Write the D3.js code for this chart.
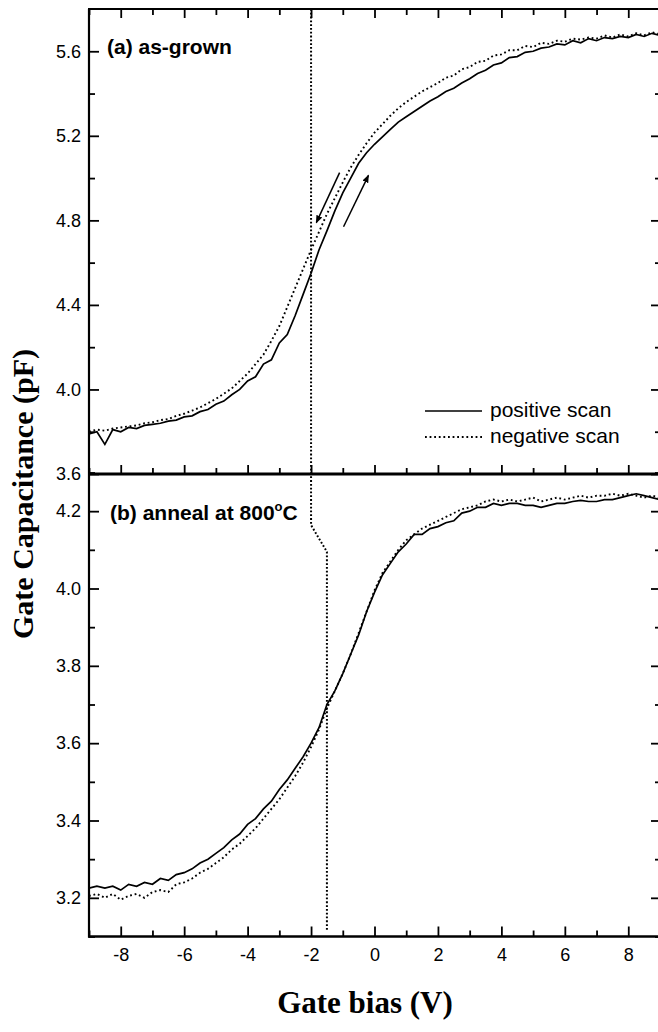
<!DOCTYPE html>
<html>
<head>
<meta charset="utf-8">
<script src="https://cdn.jsdelivr.net/npm/d3@7"></script>
<style>
  body { margin: 0; background: #fff; }
  svg { display: block; }
</style>
</head>
<body>
<svg id="chart"></svg>
<script>
let w = 658;
let h = 1032;

// gate bias sample points (V)
const bias = [
  -9, -8.75, -8.5, -8.25, -8, -7.75, -7.5, -7.25, -7, -6.75, -6.5, -6.25,
  -6, -5.75, -5.5, -5.25, -5, -4.75, -4.5, -4.25, -4, -3.75, -3.5, -3.25,
  -3, -2.75, -2.5, -2.25, -2, -1.75, -1.5, -1.25, -1, -0.75, -0.5, -0.25,
  0, 0.25, 0.5, 0.75, 1, 1.25, 1.5, 1.75, 2, 2.25, 2.5, 2.75,
  3, 3.25, 3.5, 3.75, 4, 4.25, 4.5, 4.75, 5, 5.25, 5.5, 5.75,
  6, 6.25, 6.5, 6.75, 7, 7.25, 7.5, 7.75, 8, 8.25, 8.5, 8.75, 9
];

// (a) as-grown, capacitance in pF
const grownPositive = [
  3.79, 3.80, 3.74, 3.81,
  3.80, 3.82, 3.815, 3.83,
  3.835, 3.84, 3.85, 3.855,
  3.87, 3.875, 3.895, 3.905,
  3.93, 3.945, 3.975, 4.00,
  4.04, 4.06, 4.12, 4.14,
  4.22, 4.26, 4.35, 4.45,
  4.55, 4.66, 4.75, 4.845,
  4.93, 5.00, 5.07, 5.12,
  5.16, 5.195, 5.23, 5.265,
  5.29, 5.315, 5.34, 5.365,
  5.385, 5.41, 5.425, 5.45,
  5.47, 5.495, 5.51, 5.535,
  5.545, 5.57, 5.575, 5.595,
  5.60, 5.615, 5.62, 5.635,
  5.63, 5.65, 5.64, 5.66,
  5.65, 5.665, 5.66, 5.67,
  5.665, 5.68, 5.67, 5.685,
  5.675
];
const grownNegative = [
  3.80, 3.81, 3.805, 3.815,
  3.82, 3.825, 3.83, 3.84,
  3.845, 3.855, 3.86, 3.875,
  3.885, 3.90, 3.915, 3.935,
  3.955, 3.98, 4.005, 4.04,
  4.075, 4.12, 4.165, 4.23,
  4.30, 4.39, 4.48, 4.57,
  4.66, 4.745, 4.83, 4.905,
  4.98, 5.05, 5.11, 5.165,
  5.215, 5.255, 5.295, 5.33,
  5.36, 5.385, 5.41, 5.43,
  5.45, 5.475, 5.485, 5.515,
  5.525, 5.55, 5.555, 5.58,
  5.585, 5.605, 5.605, 5.625,
  5.62, 5.64, 5.635, 5.65,
  5.645, 5.66, 5.655, 5.665,
  5.66, 5.675, 5.665, 5.68,
  5.67, 5.685, 5.675, 5.69,
  5.68
];

// (b) anneal at 800 C
const annealPositive = [
  3.225, 3.23, 3.225, 3.23,
  3.22, 3.235, 3.23, 3.24,
  3.235, 3.25, 3.245, 3.26,
  3.265, 3.275, 3.29, 3.30,
  3.315, 3.33, 3.35, 3.365,
  3.39, 3.405, 3.43, 3.45,
  3.48, 3.505, 3.535, 3.565,
  3.60, 3.64, 3.70, 3.735,
  3.78, 3.83, 3.88, 3.94,
  3.99, 4.035, 4.065, 4.095,
  4.115, 4.14, 4.14, 4.155,
  4.16, 4.17, 4.175, 4.195,
  4.20, 4.21, 4.21, 4.22,
  4.215, 4.22, 4.22, 4.215,
  4.215, 4.21, 4.215, 4.22,
  4.22, 4.225, 4.228, 4.225,
  4.225, 4.23, 4.23, 4.235,
  4.24, 4.245, 4.24, 4.235,
  4.23
];
const annealNegative = [
  3.205, 3.21, 3.20, 3.21,
  3.195, 3.205, 3.21, 3.20,
  3.215, 3.22, 3.215, 3.235,
  3.24, 3.25, 3.265, 3.275,
  3.29, 3.305, 3.325, 3.34,
  3.36, 3.38, 3.405, 3.43,
  3.455, 3.485, 3.515, 3.55,
  3.59, 3.635, 3.69, 3.735,
  3.78, 3.83, 3.885, 3.94,
  3.995, 4.04, 4.07, 4.10,
  4.125, 4.14, 4.155, 4.165,
  4.175, 4.185, 4.195, 4.205,
  4.21, 4.215, 4.225, 4.23,
  4.225, 4.23, 4.225, 4.23,
  4.235, 4.225, 4.23, 4.235,
  4.23, 4.235, 4.24, 4.235,
  4.24, 4.24, 4.245, 4.24,
  4.245, 4.24, 4.235, 4.24,
  4.235
];

// tick values
const xMajor = [-8, -6, -4, -2, 0, 2, 4, 6, 8];
const xMinor = [-9, -7, -5, -3, -1, 1, 3, 5, 7, 9];
const topMajor = [3.6, 4.0, 4.4, 4.8, 5.2, 5.6];
const topMinor = [3.8, 4.2, 4.6, 5.0, 5.4];
const botMajor = [3.2, 3.4, 3.6, 3.8, 4.0, 4.2];
const botMinor = [3.1, 3.3, 3.5, 3.7, 3.9, 4.1, 4.3];

// dotted guide line (V, pF) and scan direction arrows
const guideTop = [[-2, 5.8], [-2, 3.6]];
const guideBot = [[-2, 4.3], [-2, 4.164], [-1.5, 4.095], [-1.5, 3.113]];
const arrows = [
  [[-1.10, 5.026], [-1.835, 4.789]],
  [[-0.976, 4.770], [-0.19, 5.013]]
];

const chart = d3.select('#chart')
  .attr('width', w)
  .attr('height', h)
  .style('font-family', 'Liberation Sans, Arial, sans-serif');

chart.append('defs').append('marker')
  .attr('id', 'head')
  .attr('viewBox', '0 0 10 10')
  .attr('refX', 9).attr('refY', 5)
  .attr('markerWidth', 8).attr('markerHeight', 8)
  .attr('markerUnits', 'userSpaceOnUse')
  .attr('orient', 'auto')
  .append('path')
  .attr('d', 'M0,1 L10,5 L0,9 Z')
  .attr('fill', '#000');

const x = d3.scaleLinear().domain([-9, 9]).range([89, 660]);
const yTop = d3.scaleLinear().domain([3.6, 5.8]).range([474, 9]);
const yBot = d3.scaleLinear().domain([3.1, 4.3]).range([936.5, 472.5]);

const xFmt = d => String(d);
const yFmt = d3.format('.1f');

function addAxis(axis, tx, ty) {
  const g = chart.append('g')
    .attr('transform', `translate(${tx},${ty})`)
    .call(axis);
  g.select('.domain').remove();
  g.selectAll('line').attr('stroke', '#000').attr('stroke-width', 1.8);
  g.selectAll('text').attr('fill', '#000').style('font-size', '18px');
  return g;
}

// top panel axes
addAxis(d3.axisLeft(yTop).tickValues(topMajor).tickSizeInner(-10).tickSizeOuter(0).tickPadding(8).tickFormat(yFmt), 89, 0);
addAxis(d3.axisLeft(yTop).tickValues(topMinor).tickSizeInner(-6).tickSizeOuter(0).tickFormat(''), 89, 0);
addAxis(d3.axisRight(yTop).tickValues(topMajor).tickSizeInner(-9).tickSizeOuter(0).tickFormat(''), 660, 0);
addAxis(d3.axisRight(yTop).tickValues(topMinor).tickSizeInner(-5).tickSizeOuter(0).tickFormat(''), 660, 0);
addAxis(d3.axisTop(x).tickValues(xMajor).tickSizeInner(-9).tickSizeOuter(0).tickFormat(''), 0, 9);
addAxis(d3.axisTop(x).tickValues(xMinor).tickSizeInner(-6).tickSizeOuter(0).tickFormat(''), 0, 9);
addAxis(d3.axisBottom(x).tickValues(xMajor).tickSizeInner(-9).tickSizeOuter(0).tickFormat(''), 0, 474);
addAxis(d3.axisBottom(x).tickValues(xMinor).tickSizeInner(-6).tickSizeOuter(0).tickFormat(''), 0, 474);

// bottom panel axes
addAxis(d3.axisLeft(yBot).tickValues(botMajor).tickSizeInner(-10).tickSizeOuter(0).tickPadding(8).tickFormat(yFmt), 89, 0);
addAxis(d3.axisLeft(yBot).tickValues(botMinor).tickSizeInner(-6).tickSizeOuter(0).tickFormat(''), 89, 0);
addAxis(d3.axisRight(yBot).tickValues(botMajor).tickSizeInner(-9).tickSizeOuter(0).tickFormat(''), 660, 0);
addAxis(d3.axisRight(yBot).tickValues(botMinor).tickSizeInner(-5).tickSizeOuter(0).tickFormat(''), 660, 0);
addAxis(d3.axisBottom(x).tickValues(xMajor).tickSizeInner(-10).tickSizeOuter(0).tickPadding(12).tickFormat(xFmt), 0, 936.5);
addAxis(d3.axisBottom(x).tickValues(xMinor).tickSizeInner(-6).tickSizeOuter(0).tickFormat(''), 0, 936.5);

// frame
const frame = chart.append('g').attr('stroke', '#000').attr('fill', 'none');
frame.append('line').attr('x1', 89).attr('x2', 89).attr('y1', 9).attr('y2', 937.5).attr('stroke-width', 2.2);
frame.append('line').attr('x1', 88).attr('x2', 660).attr('y1', 9).attr('y2', 9).attr('stroke-width', 2);
frame.append('line').attr('x1', 88).attr('x2', 660).attr('y1', 474).attr('y2', 474).attr('stroke-width', 2.8);
frame.append('line').attr('x1', 88).attr('x2', 660).attr('y1', 936.5).attr('y2', 936.5).attr('stroke-width', 2.6);
frame.append('line').attr('x1', 660).attr('x2', 660).attr('y1', 9).attr('y2', 937).attr('stroke-width', 2.2);

// curves
const lineTop = d3.line().x((d, i) => x(bias[i])).y(d => yTop(d));
const lineBot = d3.line().x((d, i) => x(bias[i])).y(d => yBot(d));
const dotted = '1.8 2.8';

chart.append('path').datum(grownNegative).attr('d', lineTop)
  .attr('fill', 'none').attr('stroke', '#000').attr('stroke-width', 1.9).attr('stroke-dasharray', dotted);
chart.append('path').datum(grownPositive).attr('d', lineTop)
  .attr('fill', 'none').attr('stroke', '#000').attr('stroke-width', 1.7);
chart.append('path').datum(annealNegative).attr('d', lineBot)
  .attr('fill', 'none').attr('stroke', '#000').attr('stroke-width', 1.9).attr('stroke-dasharray', dotted);
chart.append('path').datum(annealPositive).attr('d', lineBot)
  .attr('fill', 'none').attr('stroke', '#000').attr('stroke-width', 1.7);

// dotted guide line
chart.append('path').datum(guideTop).attr('d', d3.line().x(d => x(d[0])).y(d => yTop(d[1])))
  .attr('fill', 'none').attr('stroke', '#000').attr('stroke-width', 2).attr('stroke-dasharray', '1.8 2');
chart.append('path').datum(guideBot).attr('d', d3.line().x(d => x(d[0])).y(d => yBot(d[1])))
  .attr('fill', 'none').attr('stroke', '#000').attr('stroke-width', 2).attr('stroke-dasharray', '1.8 2');

// arrows
chart.selectAll('.arrow')
  .data(arrows)
  .enter()
  .append('line')
  .attr('class', 'arrow')
  .attr('x1', d => x(d[0][0])).attr('y1', d => yTop(d[0][1]))
  .attr('x2', d => x(d[1][0])).attr('y2', d => yTop(d[1][1]))
  .attr('stroke', '#000').attr('stroke-width', 1.5)
  .attr('marker-end', 'url(#head)');

// panel labels
chart.append('text').attr('x', 107).attr('y', 54)
  .style('font-size', '21px').style('font-weight', 'bold')
  .text('(a) as-grown');
const lb = chart.append('text').attr('x', 110).attr('y', 520)
  .style('font-size', '21px').style('font-weight', 'bold');
lb.append('tspan').text('(b) anneal at 800');
lb.append('tspan').attr('dy', -9).style('font-size', '13px').text('o');
lb.append('tspan').attr('dy', 9).text('C');

// legend
const legend = chart.append('g');
legend.append('line').attr('x1', 425).attr('x2', 482).attr('y1', 411).attr('y2', 411)
  .attr('stroke', '#000').attr('stroke-width', 1.7);
legend.append('line').attr('x1', 425).attr('x2', 482).attr('y1', 437).attr('y2', 437)
  .attr('stroke', '#000').attr('stroke-width', 1.9).attr('stroke-dasharray', dotted);
legend.append('text').attr('x', 490).attr('y', 417).style('font-size', '21px').text('positive scan');
legend.append('text').attr('x', 490).attr('y', 443).style('font-size', '21px').text('negative scan');

// axis titles
chart.append('text')
  .attr('transform', 'translate(33,494) rotate(-90)')
  .attr('text-anchor', 'middle')
  .style('font-family', 'Liberation Serif, Times New Roman, serif')
  .style('font-weight', 'bold')
  .style('font-size', '30px')
  .text('Gate Capacitance (pF)');
chart.append('text')
  .attr('x', 365).attr('y', 1013)
  .attr('text-anchor', 'middle')
  .style('font-family', 'Liberation Serif, Times New Roman, serif')
  .style('font-weight', 'bold')
  .style('font-size', '31px')
  .text('Gate bias (V)');
</script>
</body>
</html>
